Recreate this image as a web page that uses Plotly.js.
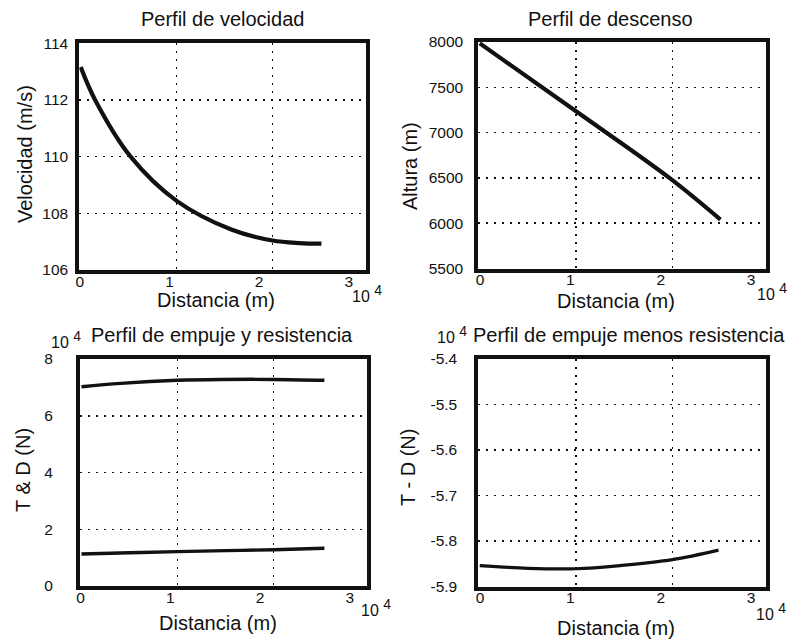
<!DOCTYPE html>
<html>
<head>
<meta charset="utf-8">
<script src="https://cdn.plot.ly/plotly-3.0.1.min.js"></script>
<style>
html,body{margin:0;padding:0;background:#ffffff;}
#chart{width:791px;height:639px;}
</style>
</head>
<body>
<div id="chart"></div>
<script>
// ---- Data (distance in units of 10^4 m) ----
const distVel = [0, 0.15, 0.52, 1.0, 1.57, 2.0, 2.28, 2.51];
const velocity = [113.16, 112.0, 110.0, 108.44, 107.43, 107.04, 106.95, 106.93];

const distAlt = [0, 1.0, 1.97, 2.5];
const altitude = [7985, 7235, 6500, 6040];

const distThrust = [0, 0.41, 1.0, 1.45, 2.0, 2.53];
const thrust = [7.02, 7.14, 7.25, 7.28, 7.28, 7.25];      // x 10^4 N
const distDrag = [0, 0.5, 1.0, 1.5, 2.0, 2.53];
const drag = [1.13, 1.17, 1.21, 1.245, 1.28, 1.33];        // x 10^4 N

const distNet = [0, 0.5, 1.0, 1.46, 2.0, 2.48];
const netForce = [-5.854, -5.860, -5.861, -5.854, -5.841, -5.820]; // x 10^4 N

// ---- Tick labels ----
const xLabelVals = [0, 1, 2, 3];
const xLabelText = ['0', '1', '2', '3'];
const xGridVals = [1, 2];
const velTicks = [106, 108, 110, 112, 114];
const altTicks = [5500, 6000, 6500, 7000, 7500, 8000];
const tdTicks = [0, 2, 4, 6, 8];
const netTicks = [-5.9, -5.8, -5.7, -5.6, -5.5, -5.4];
const netTickText = ['-5.9', '-5.8', '-5.7', '-5.6', '-5.5', '-5.4'];

// ---- Text ----
const titles = ['Perfil de velocidad', 'Perfil de descenso', 'Perfil de empuje y resistencia', 'Perfil de empuje menos resistencia'];
const xTitle = 'Distancia (m)';
const yTitles = ['Velocidad (m/s)', 'Altura (m)', 'T & D (N)', 'T - D (N)'];
const expText = '10 <sup><span style="font-size:14px">4</span></sup>';

const W = 791, H = 639;
const FONT = '"Liberation Sans", Arial, sans-serif';
const INK = '#111111';
const fx = p => p / W;
const fy = p => 1 - p / H;

const dom = {
  p1: {x: [fx(79.3), fx(365.5)], y: [fy(270), fy(43.3)]},
  p2: {x: [fx(478.3), fx(765.7)], y: [fy(268.5), fy(42)]},
  p3: {x: [fx(80), fx(366.7)], y: [fy(586), fy(359)]},
  p4: {x: [fx(478.3), fx(765.7)], y: [fy(586.5), fy(359)]}
};

const base = {
  showline: true, mirror: true, linewidth: 4, linecolor: INK,
  ticks: '', zeroline: false,
  showgrid: true, gridcolor: INK, gridwidth: 1.5, griddash: '2px,6px',
  tickfont: {family: FONT, size: 15.5, color: INK},
  fixedrange: true
};
function dataX(d, anchor) {
  return Object.assign({}, base, {domain: d, anchor: anchor, range: [-0.015, 2.97],
    tickvals: xGridVals, showticklabels: false});
}
function labelX(over, anchor, range) {
  return {overlaying: over, anchor: anchor, side: 'bottom', range: range,
    tickmode: 'array', tickvals: xLabelVals, ticktext: xLabelText, showticklabels: true,
    showgrid: false, showline: false, zeroline: false, ticks: '',
    tickfont: {family: FONT, size: 15.5, color: INK}, fixedrange: true};
}
function dataY(d, anchor, range, vals, text, standoff) {
  const o = Object.assign({}, base, {domain: d, anchor: anchor, range: range, tickvals: vals,
    ticklabelstandoff: standoff});
  if (text) o.ticktext = text;
  return o;
}

const lineStyle = w => ({color: INK, width: w, shape: 'spline', smoothing: 1.0});

const traces = [
  {x: distVel, y: velocity, xaxis: 'x', yaxis: 'y', mode: 'lines', line: lineStyle(4.2), hoverinfo: 'skip'},
  {x: distAlt, y: altitude, xaxis: 'x2', yaxis: 'y2', mode: 'lines', line: lineStyle(4.2), hoverinfo: 'skip'},
  {x: distThrust, y: thrust, xaxis: 'x3', yaxis: 'y3', mode: 'lines', line: lineStyle(3.4), hoverinfo: 'skip'},
  {x: distDrag, y: drag, xaxis: 'x3', yaxis: 'y3', mode: 'lines', line: lineStyle(3.4), hoverinfo: 'skip'},
  {x: distNet, y: netForce, xaxis: 'x4', yaxis: 'y4', mode: 'lines', line: lineStyle(3.2), hoverinfo: 'skip'},
  // empty traces so the overlaid label axes are created
  {x: [], y: [], xaxis: 'x5', yaxis: 'y', mode: 'lines', hoverinfo: 'skip'},
  {x: [], y: [], xaxis: 'x6', yaxis: 'y2', mode: 'lines', hoverinfo: 'skip'},
  {x: [], y: [], xaxis: 'x7', yaxis: 'y3', mode: 'lines', hoverinfo: 'skip'},
  {x: [], y: [], xaxis: 'x8', yaxis: 'y4', mode: 'lines', hoverinfo: 'skip'}
];

function ann(text, x, y, opts) {
  return Object.assign({text: text, x: fx(x), y: fy(y), xref: 'paper', yref: 'paper',
    showarrow: false, xanchor: 'center', yanchor: 'middle',
    font: {family: FONT, size: 20, color: INK}}, opts || {});
}
const expFont = {family: FONT, size: 16, color: INK};

const annotations = [
  ann(titles[0], 222, 19),
  ann(titles[1], 610, 19),
  ann(titles[2], 222, 335),
  ann(titles[3], 629, 335),
  ann(xTitle, 216, 300),
  ann(xTitle, 616, 301),
  ann(xTitle, 218, 623),
  ann(xTitle, 616, 628),
  ann(yTitles[0], 25, 154, {textangle: -90}),
  ann(yTitles[1], 410, 166, {textangle: -90}),
  ann(yTitles[2], 23, 470, {textangle: -90}),
  ann(yTitles[3], 408, 468, {textangle: -90}),
  ann(expText, 350, 293, {xanchor: 'left', font: expFont}),
  ann(expText, 755, 292, {xanchor: 'left', font: expFont}),
  ann(expText, 359, 607, {xanchor: 'left', font: expFont}),
  ann(expText, 754, 611, {xanchor: 'left', font: expFont}),
  ann(expText, 49, 339, {xanchor: 'left', font: expFont}),
  ann(expText, 435, 334, {xanchor: 'left', font: expFont})
];

const layout = {
  width: W, height: H,
  margin: {l: 0, r: 0, t: 0, b: 0},
  paper_bgcolor: '#ffffff', plot_bgcolor: '#ffffff',
  showlegend: false,
  font: {family: FONT, color: INK},
  xaxis: dataX(dom.p1.x, 'y'),
  yaxis: dataY(dom.p1.y, 'x', [106, 114], velTicks, null, 4),
  xaxis2: dataX(dom.p2.x, 'y2'),
  yaxis2: dataY(dom.p2.y, 'x2', [5500, 8000], altTicks, null, 8),
  xaxis3: dataX(dom.p3.x, 'y3'),
  yaxis3: dataY(dom.p3.y, 'x3', [0, 8], tdTicks, null, 20),
  xaxis4: dataX(dom.p4.x, 'y4'),
  yaxis4: dataY(dom.p4.y, 'x4', [-5.9, -5.4], netTicks, netTickText, 14),
  xaxis5: labelX('x', 'y', [-0.005, 3.186]),
  xaxis6: labelX('x2', 'y2', [-0.019, 3.162]),
  xaxis7: labelX('x3', 'y3', [-0.005, 3.188]),
  xaxis8: labelX('x4', 'y4', [-0.019, 3.162]),
  annotations: annotations
};

Plotly.newPlot('chart', traces, layout, {staticPlot: true, displayModeBar: false});
</script>
</body>
</html>
